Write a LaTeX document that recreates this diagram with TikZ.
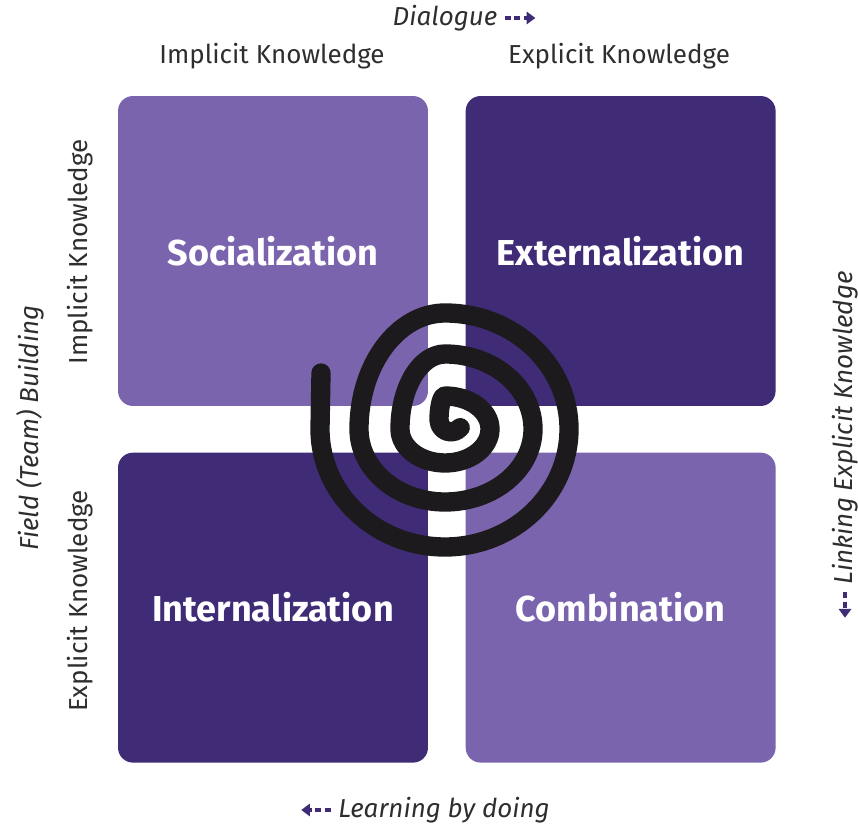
\documentclass[tikz,border=0pt]{standalone}
\usepackage{fontspec}
\setmainfont{Fira Sans}
\usetikzlibrary{positioning,arrows.meta}
\definecolor{lightpurple}{HTML}{7A64AE}
\definecolor{darkpurple}{HTML}{3F2B76}
\definecolor{txtgray}{HTML}{2E2E2E}
\definecolor{spiralblack}{HTML}{1C1A1D}

\begin{document}
\begin{tikzpicture}
[x=0.02cm,y=0.02cm,
box/.style={rounded corners=8.5pt, minimum width=6.2cm, minimum height=6.2cm, inner sep=0pt,
  font=\fontsize{20.5}{24}\selectfont\bfseries, text=white},
lab/.style={font=\fontsize{14.8}{17}\selectfont, text=txtgray, inner sep=1pt},
itlab/.style={lab, font=\fontsize{14.8}{17}\selectfont\itshape},
darr/.style={darkpurple, line width=2pt, dash pattern=on 3.5pt off 2pt, shorten <=3pt,
  -{Triangle[length=5pt,width=7pt]}},
spiral/.style={spiralblack, line width=11pt, line cap=round, line join=round}]
\useasboundingbox (0,0) rectangle (858,828);

% four quadrants
\node[box, fill=lightpurple] (soc) at (273,577) {Socialization};
\node[box, fill=darkpurple, right=0.74cm of soc] (ext) {Externalization};
\node[box, fill=darkpurple, below=0.92cm of soc] (int) {Internalization};
\node[box, fill=lightpurple, right=0.74cm of int] (com) {Combination};

% axis labels
\node[lab] (topimp) at (272,772) {Implicit Knowledge};
\node[lab] (topexp) at (619,772) {Explicit Knowledge};
\node[lab, rotate=90] (leftimp) at (80,576) {Implicit Knowledge};
\node[lab, rotate=90] (leftexp) at (80,227) {Explicit Knowledge};

% process labels with arrows
\node[itlab] (dia) at (445,810) {Dialogue};
\coordinate (diatip) at ([xshift=0.72cm]dia.east);
\draw[darr] (dia.east) -- (diatip);

\node[itlab] (lbd) at (444,18) {Learning by doing};
\coordinate (lbdtip) at ([xshift=-0.7cm]lbd.west);
\draw[darr] (lbd.west) -- (lbdtip);

\node[itlab, rotate=90] (field) at (30,400) {Field (Team) Building};

\node[itlab, rotate=90] (lnk) at (845,400) {Linking Explicit Knowledge};
\coordinate (lnktip) at ([yshift=-0.62cm]lnk.west);
\draw[darr] (lnk.west) -- (lnktip);

% spiral, quarter by quarter
\coordinate (tail) at (321,455);
\draw[spiral] (tail) -- (320,399)
  arc[start angle=180, end angle=270, x radius=125, y radius=118]
  arc[start angle=270, end angle=360, x radius=124, y radius=118]
  arc[start angle=0,   end angle=90,  x radius=124, y radius=116]
  arc[start angle=90,  end angle=180, x radius=86,  y radius=116]
  arc[start angle=180, end angle=270, x radius=86,  y radius=73]
  arc[start angle=270, end angle=360, x radius=88,  y radius=73]
  arc[start angle=0,   end angle=90,  x radius=88,  y radius=75]
  arc[start angle=90,  end angle=180, x radius=45,  y radius=75]
  arc[start angle=180, end angle=270, x radius=45,  y radius=34]
  arc[start angle=270, end angle=360, x radius=45,  y radius=34]
  arc[start angle=0,   end angle=90,  x radius=45,  y radius=33]
  arc[start angle=90,  end angle=180, x radius=6,   y radius=24]
  arc[start angle=180, end angle=320, radius=12];
\end{tikzpicture}
\end{document}
